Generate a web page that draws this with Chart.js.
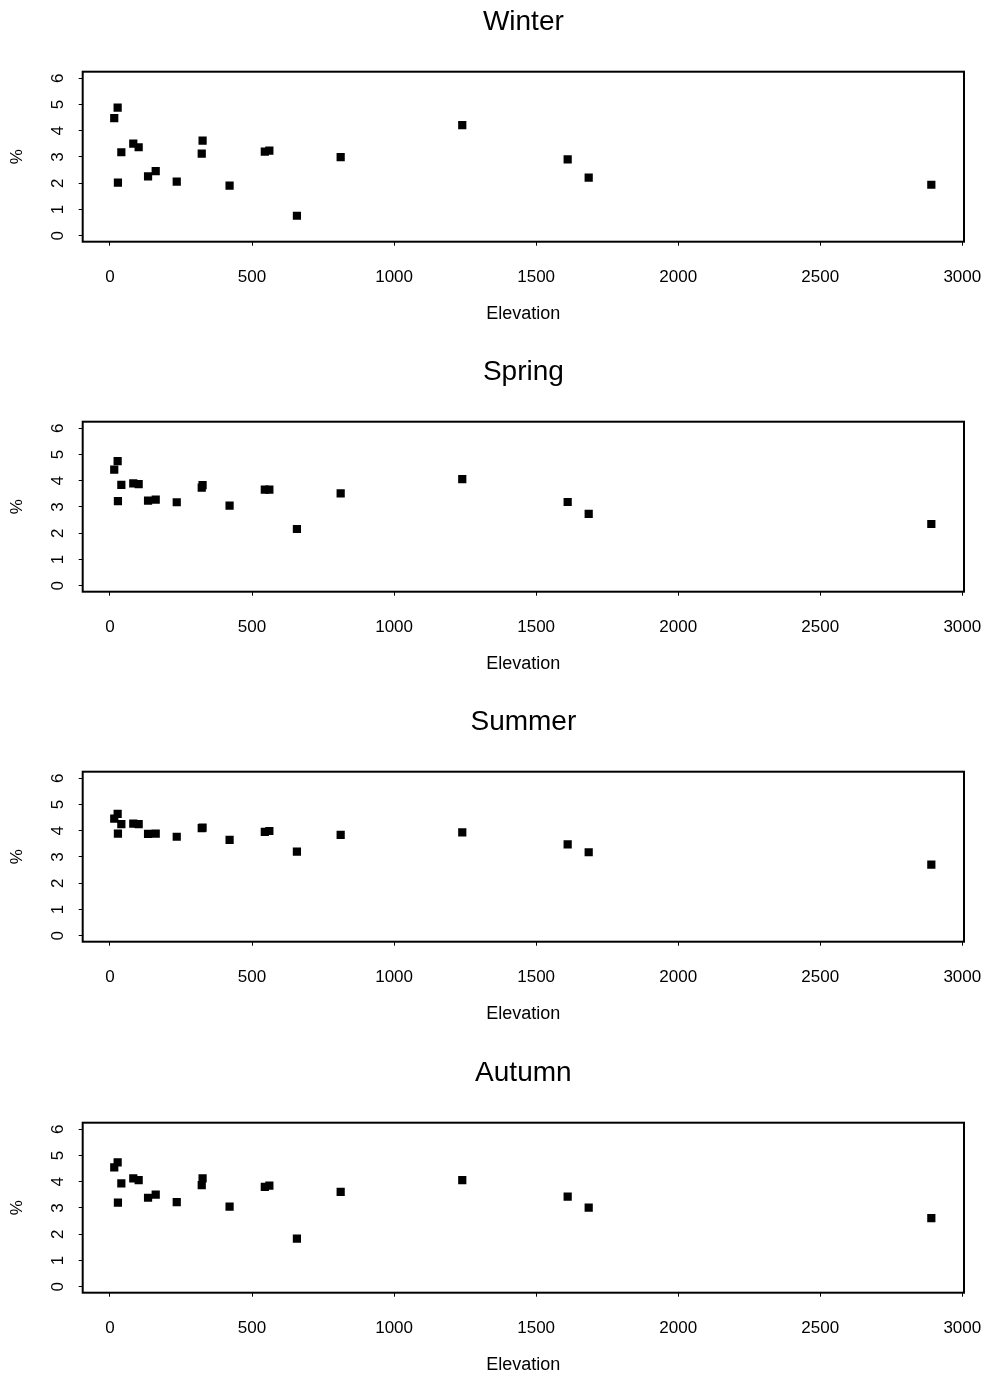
<!DOCTYPE html>
<html>
<head>
<meta charset="utf-8">
<script src="https://cdn.jsdelivr.net/npm/chart.js@4"></script>
<style>
  html, body { margin: 0; padding: 0; background: #fff; overflow: hidden; }
  body { width: 987px; height: 1379px; position: relative; }
  .panel { position: absolute; left: 0; width: 987px; height: 330px; }
</style>
</head>
<body>
<div class="panel" style="top:0px"><canvas id="c0"></canvas></div>
<div class="panel" style="top:350px"><canvas id="c1"></canvas></div>
<div class="panel" style="top:700px"><canvas id="c2"></canvas></div>
<div class="panel" style="top:1051px"><canvas id="c3"></canvas></div>
<script>
// station elevations (same stations in every season)
const elevation = [15, 27, 28, 40, 82, 101, 134, 161, 235, 323, 326, 421, 545, 561, 658, 812, 1240, 1611, 1685, 2891];

const seasons = ['Winter', 'Spring', 'Summer', 'Autumn'];

const winter = [4.48, 4.88, 2.02, 3.18, 3.51, 3.37, 2.26, 2.46, 2.06, 3.13, 3.62, 1.91, 3.20, 3.24, 0.76, 2.99, 4.21, 2.91, 2.21, 1.94];
const spring = [4.42, 4.75, 3.22, 3.84, 3.90, 3.87, 3.24, 3.28, 3.18, 3.74, 3.83, 3.05, 3.66, 3.66, 2.16, 3.52, 4.06, 3.19, 2.74, 2.35];
const summer = [4.46, 4.64, 3.89, 4.25, 4.27, 4.25, 3.88, 3.89, 3.77, 4.10, 4.12, 3.65, 3.96, 3.99, 3.20, 3.84, 3.94, 3.48, 3.18, 2.71];
const autumn = [4.55, 4.74, 3.20, 3.94, 4.13, 4.06, 3.39, 3.51, 3.22, 3.87, 4.13, 3.05, 3.80, 3.85, 1.83, 3.61, 4.06, 3.43, 3.01, 2.61];

const xTicks = [0, 500, 1000, 1500, 2000, 2500, 3000];
const yTicks = [0, 1, 2, 3, 4, 5, 6];

const FONT = 'Liberation Sans, Arial, sans-serif';

// box round the plot area
const frame = {
  id: 'frame',
  afterDatasetsDraw(chart) {
    const a = chart.chartArea;
    const ctx = chart.ctx;
    ctx.save();
    ctx.strokeStyle = '#000';
    ctx.lineWidth = 2;
    ctx.strokeRect(a.left, a.top, a.right - a.left, a.bottom - a.top);
    ctx.restore();
  }
};

function makeChart(id, title, values) {
  const ctx = document.getElementById(id).getContext('2d');
  return new Chart(ctx, {
    type: 'scatter',
    data: {
      datasets: [{
        data: elevation.map((x, i) => ({ x: x, y: values[i] })),
        pointStyle: 'rect',
        pointRadius: 5.8,
        pointHoverRadius: 5.8,
        backgroundColor: '#000',
        borderWidth: 0,
      }],
    },
    options: {
      responsive: true,
      maintainAspectRatio: false,
      animation: false,
      events: [],
      layout: { padding: { left: 0, right: 23, top: 0, bottom: 0 } },
      plugins: {
        legend: { display: false },
        tooltip: { enabled: false },
        title: {
          display: true,
          fullSize: false,
          text: title,
          color: '#000',
          font: { family: FONT, size: 28, weight: 'normal' },
          padding: { top: 5, bottom: 33.1 },
        },
      },
      scales: {
        x: {
          type: 'linear',
          min: -96,
          max: 3006,
          afterBuildTicks: (s) => { s.ticks = xTicks.map(v => ({ value: v })); },
          afterFit: (s) => {
            s.height = 88.3;
            s.paddingLeft = 0;
            s.paddingRight = 0;
          },
          grid: { display: true, drawOnChartArea: false, drawTicks: true, tickLength: 4, color: '#000', lineWidth: 1 },
          border: { display: false },
          ticks: {
            color: '#000',
            font: { family: FONT, size: 17 },
            padding: 21,
            maxRotation: 0,
            autoSkip: false,
            callback: (v) => String(v),
          },
          title: {
            display: true,
            text: 'Elevation',
            color: '#000',
            font: { family: FONT, size: 18 },
            padding: { top: 0, bottom: 5 },
          },
        },
        y: {
          type: 'linear',
          min: -0.23,
          max: 6.25,
          afterBuildTicks: (s) => { s.ticks = yTicks.map(v => ({ value: v })); },
          afterFit: (s) => { s.width = 82.7; },
          grid: { display: true, drawOnChartArea: false, drawTicks: true, tickLength: 4, color: '#000', lineWidth: 1 },
          border: { display: false },
          ticks: {
            color: '#000',
            font: { family: FONT, size: 17 },
            padding: 15.5,
            minRotation: 90,
            maxRotation: 90,
            crossAlign: 'center',
            autoSkip: false,
            callback: (v) => String(v),
          },
          title: {
            display: true,
            text: '%',
            color: '#000',
            font: { family: FONT, size: 17 },
            padding: { top: 7, bottom: 0 },
          },
        },
      },
    },
    plugins: [frame],
  });
}

makeChart('c0', seasons[0], winter);
makeChart('c1', seasons[1], spring);
makeChart('c2', seasons[2], summer);
makeChart('c3', seasons[3], autumn);
</script>
</body>
</html>
